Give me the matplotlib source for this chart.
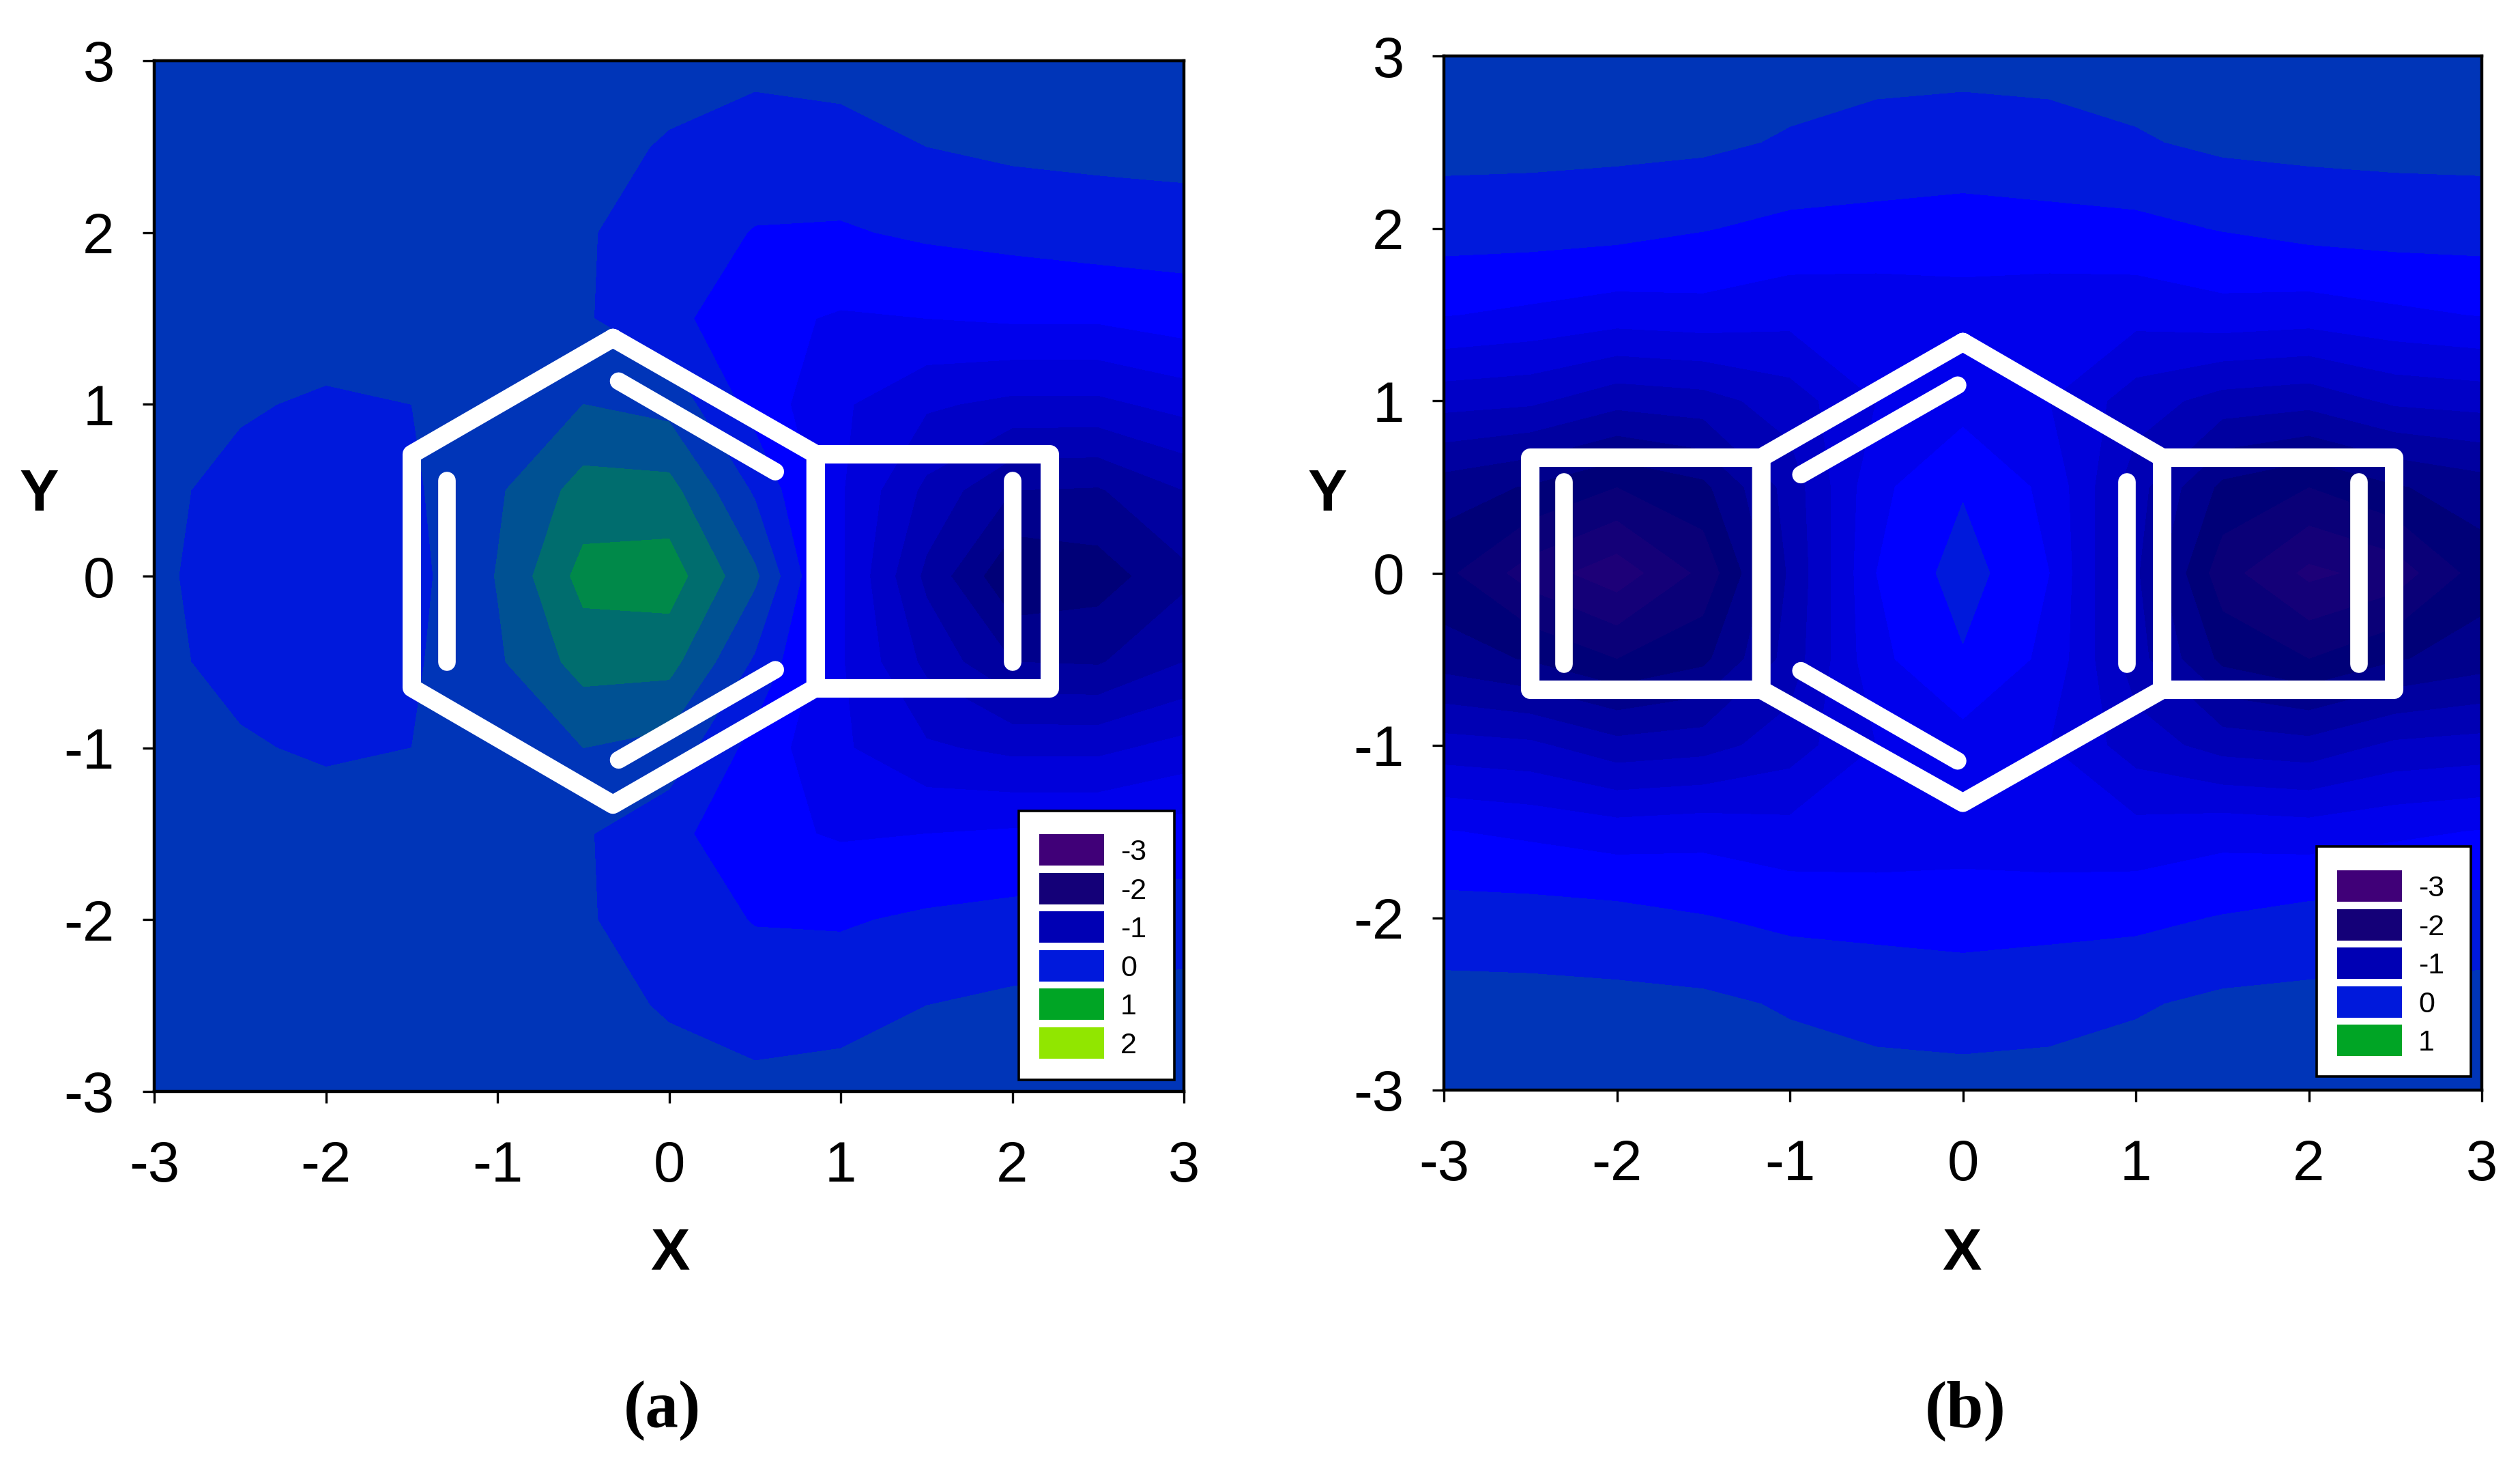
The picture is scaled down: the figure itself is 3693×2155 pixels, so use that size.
"""Two potential maps (a) and (b) with the molecule drawn on top."""

import numpy as np
import matplotlib
matplotlib.use("Agg")
import matplotlib.pyplot as plt
from matplotlib.colors import LinearSegmentedColormap
from matplotlib.patches import Rectangle

W, H = 3693, 2155

GRID_X = [-3, -2.5, -2, -1.5, -1, -0.5, 0, 0.5, 1, 1.5, 2, 2.5, 3]
GRID_Y = [0, 0.5, 1, 1.5, 2, 2.5, 3]

# rows go y = 0 .. 3, the lower half of both maps is the mirror image
Z_A = [
    [0.22, 0.15, 0.10, 0.13, 0.41, 0.87, 0.90, 0.44, -0.37, -1.05, -1.58, -1.50, -1.25],
    [0.23, 0.16, 0.14, 0.17, 0.37, 0.68, 0.67, 0.17, -0.38, -0.85, -1.20, -1.22, -1.00],
    [0.28, 0.215, 0.18, 0.20, 0.27, 0.40, 0.33, -0.08, -0.37, -0.57, -0.65, -0.65, -0.53],
    [0.30, 0.29, 0.27, 0.27, 0.28, 0.22, 0.06, -0.15, -0.22, -0.20, -0.17, -0.17, -0.10],
    [0.30, 0.30, 0.29, 0.29, 0.30, 0.22, 0.10, -0.01, -0.02, 0.03, 0.06, 0.10, 0.09],
    [0.30, 0.30, 0.30, 0.30, 0.30, 0.27, 0.18, 0.11, 0.12, 0.20, 0.24, 0.25, 0.28],
    [0.30, 0.30, 0.30, 0.30, 0.30, 0.30, 0.28, 0.25, 0.28, 0.33, 0.36, 0.36, 0.35],
]
Z_B = [
    [-1.55, -1.90, -2.12, -1.75, -0.97, -0.20, 0.09, -0.20, -0.97, -1.72, -2.05, -1.92, -1.50],
    [-1.30, -1.42, -1.60, -1.45, -0.92, -0.25, -0.02, -0.25, -0.92, -1.45, -1.60, -1.42, -1.30],
    [-0.72, -0.76, -0.93, -0.88, -0.70, -0.40, -0.28, -0.40, -0.70, -0.88, -0.93, -0.76, -0.72],
    [-0.19, -0.24, -0.30, -0.27, -0.33, -0.33, -0.30, -0.33, -0.33, -0.27, -0.30, -0.24, -0.19],
    [0.09, 0.09, 0.07, 0.01, -0.05, -0.06, -0.07, -0.06, -0.05, 0.01, 0.07, 0.09, 0.09],
    [0.27, 0.26, 0.25, 0.24, 0.18, 0.13, 0.10, 0.13, 0.18, 0.24, 0.25, 0.26, 0.27],
    [0.33, 0.33, 0.32, 0.31, 0.29, 0.27, 0.27, 0.27, 0.29, 0.31, 0.32, 0.33, 0.33],
]

LEVELS = [round(-3.2 + 0.2 * i, 1) for i in range(28)]
COLOR_VALUES = [-3.2, -3, -2, -1.6, -1, -0.2, 0, 1, 2, 2.2]
COLOR_STOPS = ["#400078", "#400078", "#140078", "#000078", "#0000b4", "#0000ff",
               "#0019dc", "#00a525", "#91e600", "#a0e600"]

LEGEND_A = ["-3", "-2", "-1", "0", "1", "2"]
LEGEND_B = ["-3", "-2", "-1", "0", "1"]
LEGEND_COLORS = ["#400078", "#140078", "#0000b4", "#0019dc", "#00a525", "#91e600"]

TICKS = [-3, -2, -1, 0, 1, 2, 3]
TICK_LABELS = ["-3", "-2", "-1", "0", "1", "2", "3"]

# molecule outlines in data coordinates
RING_A = [(-0.327, 1.386), (-1.499, 0.71), (-1.499, -0.65), (-0.327, -1.33),
          (0.854, -0.65), (0.854, 0.71), (-0.327, 1.386)]
BOX_A = [(0.854, 0.71), (2.215, 0.71), (2.215, -0.65), (0.854, -0.65), (0.854, 0.71)]
BONDS_A = [[(-1.296, 0.555), (-1.296, -0.5)], [(-0.294, 1.135), (0.619, 0.608)],
           [(-0.294, -1.07), (0.619, -0.545)], [(2.0, 0.555), (2.0, -0.5)]]

RING_B = [(0, 1.34), (-1.165, 0.67), (-1.165, -0.677), (0, -1.333),
          (1.152, -0.677), (1.152, 0.67), (0, 1.34)]
BOX_B_L = [(-1.165, 0.67), (-2.503, 0.67), (-2.503, -0.677), (-1.165, -0.677)]
BOX_B_R = [(1.152, 0.67), (2.49, 0.67), (2.49, -0.677), (1.152, -0.677)]
BONDS_B = [[(-2.307, 0.53), (-2.307, -0.527)], [(2.29, 0.53), (2.29, -0.527)],
           [(0.948, 0.53), (0.948, -0.527)], [(-0.936, 0.571), (-0.03, 1.09)],
           [(-0.936, -0.567), (-0.03, -1.09)]]

plt.rcParams["font.family"] = ["Liberation Sans", "DejaVu Sans"]


def band_colors():
    cmap = LinearSegmentedColormap.from_list(
        "esp", [((v + 3.2) / 5.4, c) for v, c in zip(COLOR_VALUES, COLOR_STOPS)], N=1024)
    return [cmap((lv + 3.2) / 5.4) for lv in LEVELS[:-1]]


def px_axes(fig, left, top, right, bottom):
    return fig.add_axes([left / W, 1 - bottom / H, (right - left) / W, (bottom - top) / H])


def draw_map(fig, box, z, outlines, bonds):
    ax = px_axes(fig, *box)
    half = np.array(z)
    full = np.vstack([half[:0:-1], half])
    ys = [-y for y in GRID_Y[:0:-1]] + GRID_Y
    ax.contourf(GRID_X, ys, full, levels=LEVELS, colors=band_colors(), antialiased=False)
    for line in outlines:
        xs, yy = zip(*line)
        ax.plot(xs, yy, color="white", lw=19.5, solid_capstyle="round",
                solid_joinstyle="round")
    for line in bonds:
        xs, yy = zip(*line)
        ax.plot(xs, yy, color="white", lw=18.5, solid_capstyle="round")
    ax.set_xlim(-3, 3)
    ax.set_ylim(-3, 3)
    ax.set_xticks(TICKS, TICK_LABELS)
    ax.set_yticks(TICKS, TICK_LABELS)
    ax.tick_params(axis="x", length=12, width=2.4, labelsize=60, pad=39)
    ax.tick_params(axis="y", length=12, width=2.4, labelsize=60, pad=30)
    for sp in ax.spines.values():
        sp.set_linewidth(3.2)
    return ax


def draw_legend(fig, box, swatch_top, labels):
    left, top, right, bottom = box
    ax = fig.add_axes([0, 0, 1, 1], zorder=5)
    ax.set_xlim(0, W)
    ax.set_ylim(H, 0)
    ax.axis("off")
    ax.add_patch(Rectangle((left, top), right - left, bottom - top, fc="white",
                           ec="black", lw=2.6))
    for i, lab in enumerate(labels):
        y = swatch_top + 56.6 * i
        ax.add_patch(Rectangle((left + 30, y), 95, 46, fc=LEGEND_COLORS[i], ec="none"))
        ax.text(left + 149, y + 27, lab, fontsize=31, va="center", ha="left")


fig = plt.figure(figsize=(W / 100, H / 100), dpi=100)

draw_map(fig, (226, 89, 1735, 1599), Z_A, [RING_A, BOX_A], BONDS_A)
draw_map(fig, (2116, 82, 3637, 1597), Z_B, [RING_B, BOX_B_L, BOX_B_R], BONDS_B)

draw_legend(fig, (1493, 1188, 1721, 1582), 1222, LEGEND_A)
draw_legend(fig, (3395, 1240, 3621, 1577), 1275, LEGEND_B)

for x, y, s in [(982, 1838, "X"), (2875, 1838, "X"), (57, 726, "Y"), (1945, 726, "Y")]:
    fig.text(x / W, 1 - y / H, s, fontsize=62, fontweight="bold", ha="center", va="center")
for x, s in [(970, "(a)"), (2880, "(b)")]:
    fig.text(x / W, 1 - 2067 / H, s, fontsize=70, fontweight="bold", ha="center", va="center",
             family="Liberation Serif")

fig.savefig("out.png", dpi=100)
